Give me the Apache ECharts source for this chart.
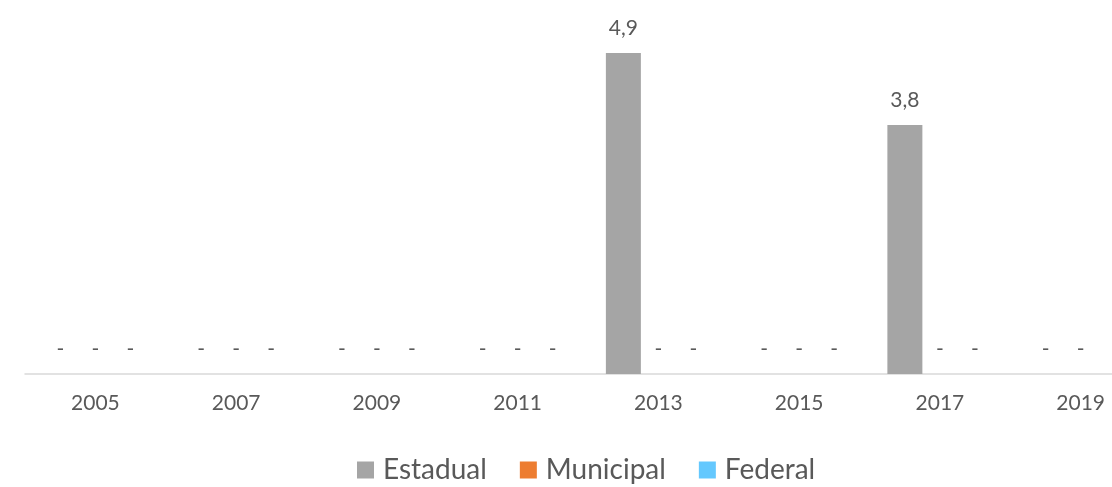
<!DOCTYPE html>
<html>
<head>
<meta charset="utf-8">
<script src="https://cdn.jsdelivr.net/npm/echarts@6/dist/echarts.min.js"></script>
<style>
  html, body { margin: 0; padding: 0; background: #ffffff; overflow: hidden; }
  body { width: 1112px; height: 487px; }
  /* the plot runs past the right edge, so the last group is clipped */
  #chart { width: 1151px; height: 487px; }
</style>
</head>
<body>
<div id="chart"></div>
<script>
// Anos exibidos no eixo horizontal
const years = ['2005', '2007', '2009', '2011', '2013', '2015', '2017', '2019'];

// Valores por esfera de governo
const estadual  = [0, 0, 0, 0, 4.9, 0, 3.8, 0];
const municipal = [0, 0, 0, 0, 0, 0, 0, 0];
const federal   = [0, 0, 0, 0, 0, 0, 0, 0];

const seriesNames = ['Estadual', 'Municipal', 'Federal'];
const seriesColors = ['#a5a5a5', '#ed7d31', '#64c8fe'];

const FONT = 'Lato, "Open Sans", sans-serif';
const TEXT = '#595959';

function fmt(v) {
  if (v === 0) return '-';
  return v.toFixed(1).replace('.', ',');
}

function makeSeries(name, data, color) {
  return {
    name: name,
    type: 'bar',
    data: data,
    barWidth: 35,
    barGap: '0%',
    itemStyle: { color: color },
    label: {
      show: true,
      position: 'top',
      distance: 14,
      color: TEXT,
      fontFamily: FONT,
      fontSize: 21,
      formatter: p => fmt(p.value)
    }
  };
}

const chart = echarts.init(document.getElementById('chart'), null, { renderer: 'canvas' });
chart.setOption({
  animation: false,
  backgroundColor: '#ffffff',
  grid: { left: 25, right: 0, top: 46.5, bottom: 113, containLabel: false },
  legend: {
    data: seriesNames,
    left: 357,
    top: 456,
    padding: 0,
    itemWidth: 17,
    itemHeight: 17,
    itemGap: 33,
    icon: 'rect',
    textStyle: { color: TEXT, fontFamily: FONT, fontSize: 28, padding: [0, 0, 0, 4] }
  },
  xAxis: {
    type: 'category',
    data: years,
    axisLine: { show: true, lineStyle: { color: '#d9d9d9', width: 1.5 } },
    axisTick: { show: false },
    axisLabel: { color: TEXT, fontFamily: FONT, fontSize: 21, margin: 19 }
  },
  yAxis: {
    type: 'value',
    min: 0,
    max: 5,
    show: false,
    splitLine: { show: false }
  },
  series: [
    makeSeries(seriesNames[0], estadual, seriesColors[0]),
    makeSeries(seriesNames[1], municipal, seriesColors[1]),
    makeSeries(seriesNames[2], federal, seriesColors[2])
  ]
});
</script>
</body>
</html>
